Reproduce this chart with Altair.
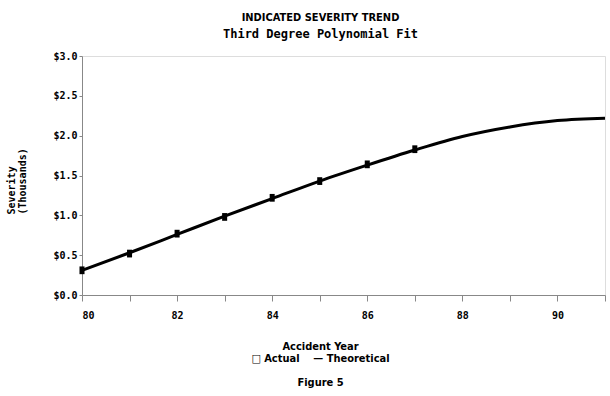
import altair as alt
import pandas as pd

# Observed severities by accident year (thousands of dollars)
years_actual = [80, 81, 82, 83, 84, 85, 86, 87]
severity_actual = [0.31, 0.52, 0.77, 0.98, 1.22, 1.43, 1.64, 1.83]

# Fitted third-degree polynomial, read at each accident year
years_fit = [80, 81, 82, 83, 84, 85, 86, 87, 88, 89, 90, 91]
severity_fit = [0.31, 0.53, 0.76, 0.99, 1.21, 1.43, 1.63, 1.82, 1.99, 2.11, 2.19, 2.22]

x_ticks = list(range(80, 92))
y_ticks = [0, 0.5, 1, 1.5, 2, 2.5, 3]

actual = pd.DataFrame({"year": years_actual, "severity": severity_actual})
fit = pd.DataFrame({"year": years_fit, "severity": severity_fit})

MONO = "DejaVu Sans Mono"
NARROW = "Liberation Sans Narrow, DejaVu Sans Condensed, DejaVu Sans"

x_enc = alt.X(
    "year:Q",
    scale=alt.Scale(domain=[80, 91], nice=False, zero=False),
    axis=alt.Axis(
        values=x_ticks,
        labelExpr="datum.value % 2 == 0 ? datum.label : ''",
        labelFont=MONO,
        labelFontSize=10,
        labelFontWeight="bold",
        labelOverlap=False,
        title=[
            "Accident Year",
            "\u25a1\u00a0Actual\u00a0\u00a0\u00a0\u00a0\u2014\u00a0Theoretical",
            "\u2800",
            "Figure 5",
        ],
        titleX=238,
        titleY=45,
        titleBaseline="top",
        titleLineHeight=12,
        titleFont=NARROW,
        titleFontSize=11,
        titleFontWeight="bold",
        tickSize=6,
        grid=False,
        labelPadding=9,
    ),
)
y_enc = alt.Y(
    "severity:Q",
    scale=alt.Scale(domain=[0, 3], nice=False),
    axis=alt.Axis(
        values=y_ticks,
        format="$.1f",
        labelFont=MONO,
        labelFontSize=10,
        labelFontWeight="bold",
        labelOverlap=False,
        title=["Severity", "(Thousands)"],
        titleAngle=270,
        titleAlign="left",
        titleX=-76,
        titleY=158,
        titleBaseline="top",
        titleLineHeight=11,
        titleFont=MONO,
        titleFontSize=10,
        titleFontWeight="bold",
        tickSize=3,
        grid=False,
        labelPadding=2,
    ),
)

base = alt.Chart().encode(x=x_enc, y=y_enc)

line = base.mark_line(color="black", strokeWidth=3, interpolate="monotone").properties(data=fit)
points = base.mark_point(
    shape="M-0.65,-1L0.65,-1L0.65,1L-0.65,1Z", filled=True, color="black", opacity=1, size=60
).properties(data=actual)

chart = (
    alt.layer(line, points)
    .properties(
        width=523,
        height=239,
        autosize="none",
        padding={"left": 82, "top": 56, "right": 5, "bottom": 101},
        title=alt.TitleParams(
            text="INDICATED SEVERITY TREND",
            subtitle="Third Degree Polynomial Fit",
            anchor="middle",
            dx=-23,
            offset=11,
            font=NARROW,
            fontSize=11,
            fontWeight="bold",
            subtitleFont=MONO,
            subtitleFontSize=12,
            subtitleFontWeight="bold",
            subtitlePadding=6,
            color="black",
            subtitleColor="black",
        ),
    )
    .configure_view(stroke="black", strokeWidth=2)
    .configure_axis(
        domainColor="black",
        domainWidth=2,
        tickColor="black",
        tickWidth=2,
        labelColor="black",
        titleColor="black",
    )
    .configure(background="white")
)

chart.save("out.html", embed_options={"renderer": "svg", "actions": False})
